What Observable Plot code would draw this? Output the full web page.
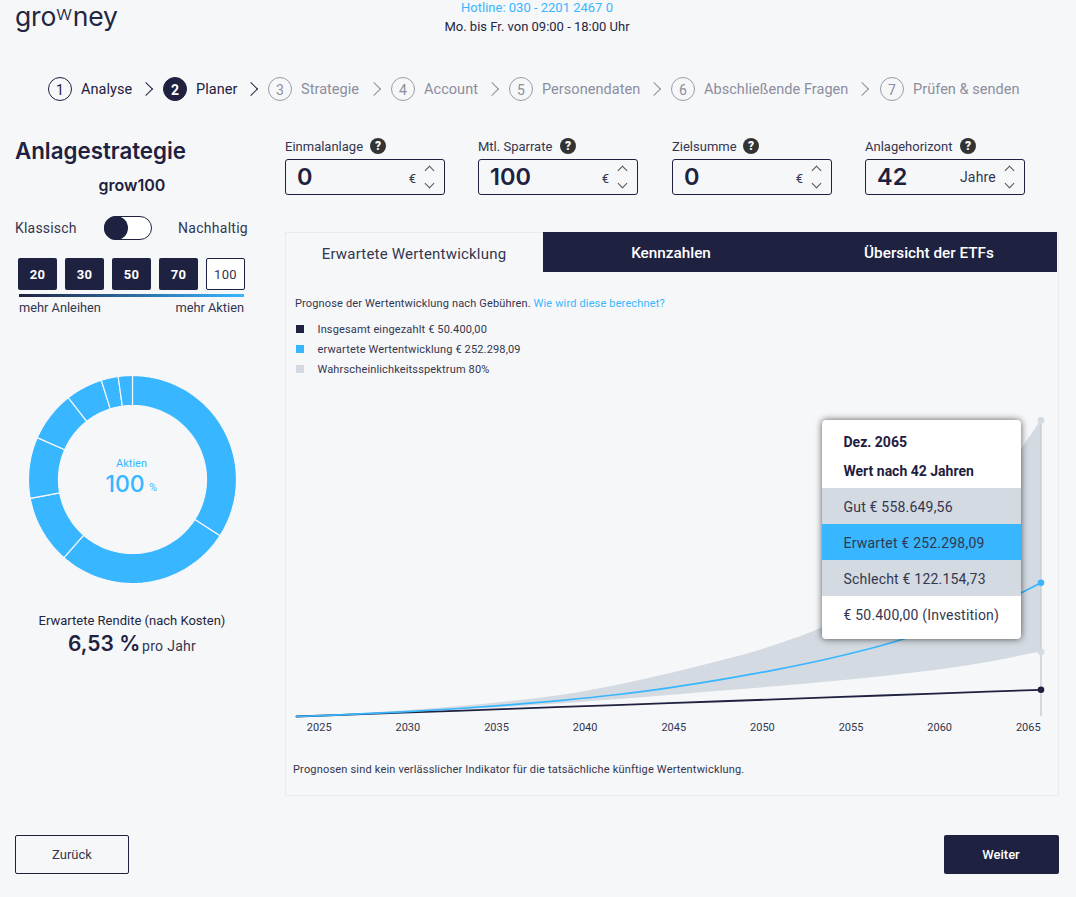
<!DOCTYPE html>
<html lang="de">
<head>
<meta charset="utf-8">
<title>growney Planer</title>
<script src="https://cdn.jsdelivr.net/npm/d3@7"></script>
<script src="https://cdn.jsdelivr.net/npm/@observablehq/plot@0.6"></script>
<style>
  html, body { margin: 0; background: #f6f7f9; }
  #page { position: relative; width: 1076px; height: 897px; overflow: hidden; font-family: Roboto, sans-serif; color: #1e2140; }
  .t { position: absolute; white-space: nowrap; transform: translateY(-50%); line-height: 1; }
  .c { transform: translate(-50%, -50%); }
  .r { transform: translate(-100%, -50%); }
  .box { position: absolute; box-sizing: border-box; }
  .h { font-family: Inter, sans-serif; }
  .chev { position: absolute; border-top: 1.1px solid; border-right: 1.1px solid; box-sizing: border-box; }
  .tip { position: absolute; left: 0; width: 199px; box-sizing: border-box; padding-left: 21.5px; font-size: 14px; color: #33364f; letter-spacing: .2px; }
  svg { overflow: visible; }
</style>
</head>
<body>
<div id="page"></div>
<script>
// chart values
const years = [2024, 2027, 2030, 2033, 2036, 2039, 2042, 2045, 2048, 2051, 2054, 2057, 2060, 2063, 2066]
const invested = [0, 3600, 7200, 10800, 14400, 18000, 21600, 25200, 28800, 32400, 36000, 39600, 43200, 46800, 50400]
const expected = [0, 3900, 8800, 14600, 21800, 30500, 41000, 54000, 70000, 88000, 109000, 134000, 165000, 203000, 252298]
const good = [0, 4400, 10500, 18500, 28000, 40000, 58000, 80000, 105000, 134000, 172000, 228000, 305000, 415000, 558650]
const bad = [0, 3500, 7600, 12200, 17500, 24000, 31500, 39500, 48000, 56000, 65000, 75000, 87000, 102000, 122155]
const tickYears = [2025, 2030, 2035, 2040, 2045, 2050, 2055, 2060, 2065]

// donut shares of the stock funds, in percent
const donutShares = [34.1, 27.35, 10.65, 9.5, 7.8, 5.75, 2.65, 2.2]

const steps = ["Analyse", "Planer", "Strategie", "Account", "Personendaten", "Abschließende Fragen", "Prüfen & senden"]
const stepCircleX = [60, 175, 280, 403, 521, 683, 892]
const stepChevX = [149, 254, 377, 495, 657, 865]
const inputs = [
  {label: "Einmalanlage", value: "0", unit: "€", x: 285, q: 378},
  {label: "Mtl. Sparrate", value: "100", unit: "€", x: 478, q: 568},
  {label: "Zielsumme", value: "0", unit: "€", x: 672, q: 751},
  {label: "Anlagehorizont", value: "42", unit: "Jahre", x: 865, q: 968}
]
const mixes = ["20", "30", "50", "70", "100"]
const legend = [
  ["#1e2140", "Insgesamt eingezahlt € 50.400,00"],
  ["#38b6ff", "erwartete Wertentwicklung € 252.298,09"],
  ["#d3dae1", "Wahrscheinlichkeitsspektrum 80%"]
]

const navy = "#1e2140", blue = "#38b6ff", band = "#d3dae1"
const page = document.querySelector("#page")
let html = ""
const text = (s, x, y, style = "", cls = "") => { html += `<div class="t ${cls}" style="left:${x}px;top:${y}px;${style}">${s}</div>` }
const box = (x, y, w, h, style = "") => { html += `<div class="box" style="left:${x}px;top:${y}px;width:${w}px;height:${h}px;${style}"></div>` }
const chev = (x, y, deg, color, size = 7) => { html += `<div class="chev" style="left:${x - size / 2}px;top:${y - size / 2}px;width:${size}px;height:${size}px;transform:rotate(${deg}deg);color:${color}"></div>` }

// header
html += `<div class="t h" style="left:15px;top:16px;font-size:26.5px;letter-spacing:-.2px;color:#23263f">gro<span style="font-size:20px;font-weight:300;position:relative;top:-6px;margin:0 .5px 0 0">w</span>ney</div>`
text("Hotline: 030 - 2201 2467 0", 537, 7, `font-size:13px;color:${blue}`, "c")
text("Mo. bis Fr. von 09:00 - 18:00 Uhr", 537, 26, "font-size:13px;color:#23263f", "c")

// stepper
steps.forEach((s, i) => {
  const x = stepCircleX[i], on = i < 2, col = on ? navy : "#8c8e9e"
  box(x - 12, 77, 24, 24, `border-radius:50%;border:1.2px solid ${on ? navy : "#9a9ca9"};${i == 1 ? "background:" + navy : ""}`)
  text(i + 1, x, 89.5, `font-size:14px;color:${i == 1 ? "#fff" : col};${i == 1 ? "font-weight:700" : ""}`, "c")
  text(s, x + 21, 89.5, `font-size:14.5px;letter-spacing:.05px;color:${col}`)
  if (i < 6) chev(stepChevX[i] - 3.5, 89, 45, i < 2 ? navy : "#8c8e9e", 10)
})

// left column
text("Anlagestrategie", 15, 151, "font-size:22.3px;font-weight:600", "h")
text("grow100", 132, 185, "font-size:16px;font-weight:600", "h c")
text("Klassisch", 15, 228, "font-size:14px;letter-spacing:.2px;color:#33364f")
box(104, 216, 48, 24, `border:1px solid ${navy};border-radius:12px;background:#fff`)
box(104, 216, 24, 24, `border-radius:50%;background:${navy}`)
text("Nachhaltig", 248, 228, "font-size:14px;letter-spacing:.27px;color:#33364f", "r")
mixes.forEach((m, i) => {
  const x = 18 + i * 47, last = i == 4
  box(x, 258, 39, 32, `border-radius:2px;${last ? `background:#fff;border:1px solid ${navy}` : `background:${navy}`}`)
  text(m, x + 19.5, 274, `font-size:13px;letter-spacing:.4px;${last ? "color:#33364f" : "color:#fff;font-weight:700"}`, "c")
})
box(19, 294, 225, 3, `background:linear-gradient(90deg,${navy},${blue})`)
text("mehr Anleihen", 19, 308, "font-size:12.8px;color:#33364f")
text("mehr Aktien", 244, 308, "font-size:12.8px;color:#33364f", "r")
text("Aktien", 131.5, 463, `font-size:11px;color:${blue}`, "c")
text("100", 125, 484, `font-size:23px;font-weight:500;color:${blue}`, "c h")
text("%", 153, 488, `font-size:10.5px;color:${blue}`, "c")
text("Erwartete Rendite (nach Kosten)", 132, 620, "font-size:13px;color:#23263f", "c")
text("6,53 %", 68, 643, "font-size:21px;font-weight:600", "h")
text("pro Jahr", 142, 646, "font-size:14px;letter-spacing:.3px;color:#33364f")

// inputs
inputs.forEach(d => {
  text(d.label, d.x, 146, "font-size:13px;color:#33364f")
  box(d.q - 8, 138, 16, 16, "border-radius:50%;background:#333")
  text("?", d.q, 146, "font-size:12px;font-weight:900;color:#f6f7f9", "c")
  box(d.x, 159, 160, 36, `border:1px solid ${navy};border-radius:3px`)
  text(d.value, d.x + 12, 177, "font-size:23.5px;font-weight:600", "h")
  if (d.unit == "€") text(d.unit, d.x + 131, 178, "font-size:13px;color:#33364f", "r")
  else text(d.unit, d.x + 131, 177, "font-size:14px;letter-spacing:.2px;color:#33364f", "r")
  chev(d.x + 144, 170, -45, "#555")
  chev(d.x + 144, 183, 135, "#555")
})

// panel with tabs
box(285, 232, 774, 564, "border:1px solid #e9ebee")
box(543, 232, 514, 40, `background:${navy}`)
text("Erwartete Wertentwicklung", 414, 254, "font-size:15px;letter-spacing:.2px;color:#33364f", "c")
text("Kennzahlen", 671, 254, "font-size:15.3px;font-weight:500;color:#fff", "c")
text("Übersicht der ETFs", 929, 254, "font-size:15.3px;font-weight:500;color:#fff", "c")
text(`Prognose der Wertentwicklung nach Gebühren. <span style="color:${blue}">Wie wird diese berechnet?</span>`, 295, 303, "font-size:11px;letter-spacing:.15px;color:#33364f")
legend.forEach(([col, s], i) => {
  box(296, 325 + i * 20, 8, 8, `background:${col}`)
  text(s, 317.5, 329 + i * 20, "font-size:11px;letter-spacing:.15px;color:#33364f")
})
text("Prognosen sind kein verlässlicher Indikator für die tatsächliche künftige Wertentwicklung.", 293, 769, "font-size:11px;letter-spacing:.18px;color:#33364f")

// bottom buttons
box(15, 835, 114, 39, `border:1px solid ${navy};border-radius:2px`)
text("Zurück", 72, 854, "font-size:13px;color:#33364f", "c")
box(944, 835, 115, 39, `background:${navy};border-radius:2px`)
text("Weiter", 1001, 854, "font-size:13px;font-weight:500;color:#fff", "c")

page.innerHTML = html

// forecast chart
const rows = years.map((year, i) => ({year, invested: invested[i], expected: expected[i], good: good[i], bad: bad[i]}))
const last = rows[rows.length - 1]

const chart = Plot.plot({
  width: 773,
  height: 340,
  marginLeft: 11,
  marginRight: 17.5,
  marginTop: 10,
  marginBottom: 24,
  style: {background: "transparent", fontFamily: "Roboto, sans-serif", fontSize: "11px", color: "#33364f"},
  x: {domain: [2024, 2066], axis: null},
  y: {domain: [0, 577358], axis: null},
  marks: [
    Plot.areaY(rows, {x: "year", y1: "bad", y2: "good", fill: band, curve: "catmull-rom"}),
    Plot.ruleX([2066], {y1: 0, y2: good[good.length - 1], stroke: "#b3bac4", strokeWidth: 1}),
    Plot.line(rows, {x: "year", y: "invested", stroke: navy, strokeWidth: 1.8}),
    Plot.line(rows, {x: "year", y: "expected", stroke: blue, strokeWidth: 1.7, curve: "catmull-rom"}),
    Plot.dot([last], {x: "year", y: "good", r: 3.3, fill: band}),
    Plot.dot([last], {x: "year", y: "bad", r: 3.3, fill: band}),
    Plot.dot([last], {x: "year", y: "expected", r: 3.3, fill: blue}),
    Plot.dot([last], {x: "year", y: "invested", r: 3.3, fill: navy}),
    Plot.axisX({ticks: tickYears, tickSize: 0, tickPadding: 7, dx: 5, label: null, tickFormat: d => String(d)})
  ]
})
chart.style.position = "absolute"
chart.style.left = "285px"
chart.style.top = "400px"
page.append(chart)

// tooltip sits on top of the chart
const tip = document.createElement("div")
tip.className = "box"
tip.style.cssText = "left:822px;top:420px;width:199px;height:219px;background:#fff;border-radius:4px;box-shadow:0 0 7px rgba(0,0,0,.65);overflow:hidden"
tip.innerHTML = `
  <div class="tip" style="top:14px;font-weight:700;color:${navy};letter-spacing:0">Dez. 2065</div>
  <div class="tip" style="top:43px;font-weight:700;color:${navy};letter-spacing:0">Wert nach 42 Jahren</div>
  <div class="tip" style="top:68px;height:36px;line-height:38px;background:${band}">Gut € 558.649,56</div>
  <div class="tip" style="top:104px;height:36px;line-height:38px;background:${blue}">Erwartet € 252.298,09</div>
  <div class="tip" style="top:140px;height:36px;line-height:38px;background:${band}">Schlecht € 122.154,73</div>
  <div class="tip" style="top:176px;height:36px;line-height:38px">€ 50.400,00 (Investition)</div>`
page.append(tip)

// donut: wedges as polygons on a plain planar projection
const R = 103.7, r = 73.8
const ringPoint = (radius, a) => [radius * Math.sin(a), radius * Math.cos(a)]
const arcPoints = (radius, a0, a1) => d3.range(0, 41).map(k => ringPoint(radius, a0 + (a1 - a0) * k / 40))
const wedges = d3.pie().sort(null)(donutShares).map(w => ({
  type: "Feature",
  properties: {share: w.data},
  geometry: {type: "Polygon", coordinates: [[...arcPoints(R, w.startAngle, w.endAngle), ...arcPoints(r, w.endAngle, w.startAngle), ringPoint(R, w.startAngle)]]}
}))
const donut = Plot.plot({
  width: 208,
  height: 208,
  margin: 0,
  style: {background: "transparent"},
  projection: {
    type: () => d3.geoIdentity().reflectY(true),
    domain: {type: "Polygon", coordinates: [arcPoints(R, 0, 2 * Math.PI)]}
  },
  marks: [
    Plot.geo(wedges, {fill: blue, stroke: "#f6f7f9", strokeWidth: 1.2})
  ]
})
donut.style.position = "absolute"
donut.style.left = "28px"
donut.style.top = "375px"
page.append(donut)
</script>
</body>
</html>
